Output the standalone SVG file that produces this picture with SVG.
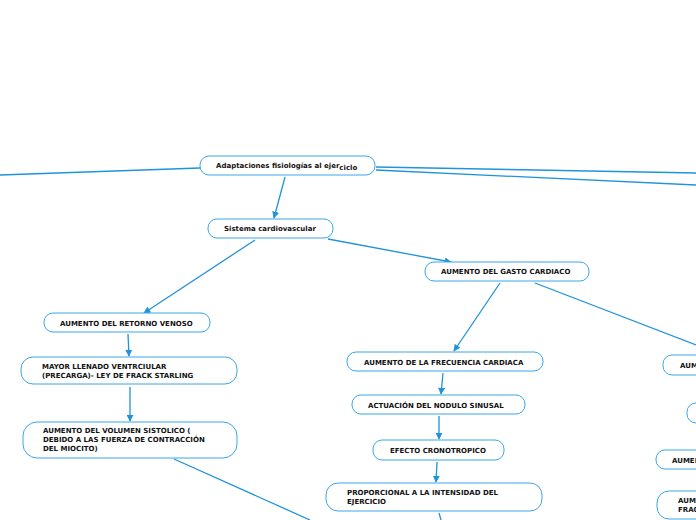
<svg xmlns="http://www.w3.org/2000/svg" width="696" height="520" viewBox="0 0 696 520">
<style>
.n{fill:#fff;stroke:#3aa6e8;stroke-width:1}
.t{font-family:"DejaVu Sans",Verdana,sans-serif;font-weight:bold;font-size:7px;fill:#111}
.c{fill:none;stroke:#1f93dc;stroke-width:1.3}
</style>
<defs>
<marker id="a" viewBox="0 0 10 10" refX="9" refY="5" markerWidth="7" markerHeight="7" orient="auto" markerUnits="userSpaceOnUse">
<path d="M0,0 L10,5 L0,10 z" fill="#1f93dc"/>
</marker>
</defs>
<g id="connectors">
<line class="c" x1="200" y1="168" x2="0" y2="175"/>
<line class="c" x1="376" y1="167" x2="696" y2="173"/>
<line class="c" x1="376" y1="170" x2="696" y2="185"/>
<line class="c" x1="285" y1="177" x2="274" y2="218" marker-end="url(#a)"/>
<line class="c" x1="328" y1="239" x2="451" y2="262" marker-end="url(#a)"/>
<line class="c" x1="255" y1="240" x2="144" y2="313" marker-end="url(#a)"/>
<line class="c" x1="128" y1="334" x2="129" y2="356" marker-end="url(#a)"/>
<line class="c" x1="130" y1="387" x2="130" y2="421" marker-end="url(#a)"/>
<line class="c" x1="174" y1="459" x2="310" y2="520"/>
<line class="c" x1="500" y1="283" x2="454" y2="351" marker-end="url(#a)"/>
<line class="c" x1="535" y1="283" x2="696" y2="345"/>
<line class="c" x1="443" y1="373" x2="441" y2="394" marker-end="url(#a)"/>
<line class="c" x1="439" y1="416" x2="439" y2="439" marker-end="url(#a)"/>
<line class="c" x1="437" y1="462" x2="436" y2="482" marker-end="url(#a)"/>
<line class="c" x1="439" y1="513" x2="441" y2="520"/>
</g>
<g id="root"><rect class="n" x="200" y="156" width="175" height="19" rx="9"/><text class="t" x="216" y="168">Adaptaciones fisiologías al ejer<tspan dy="1.5">ciclo</tspan></text></g>
<g id="sistema"><rect class="n" x="208" y="219" width="125" height="19" rx="9"/><text class="t" x="224" y="231">Sistema cardiovascular</text></g>
<g id="gasto"><rect class="n" x="425" y="262" width="164" height="19" rx="9"/><text class="t" x="441" y="274">AUMENTO DEL GASTO CARDIACO</text></g>
<g id="retorno"><rect class="n" x="44" y="313" width="166" height="19" rx="9"/><text class="t" x="60" y="326">AUMENTO DEL RETORNO VENOSO</text></g>
<g id="llenado"><rect class="n" x="21" y="357" width="216" height="27" rx="12"/><text class="t" x="42" y="369">MAYOR LLENADO VENTRCIULAR</text><text class="t" x="42" y="378">(PRECARGA)- LEY DE FRACK STARLING</text></g>
<g id="volumen"><rect class="n" x="23" y="422" width="214" height="36" rx="14"/><text class="t" x="43" y="433">AUMENTO DEL VOLUMEN SISTOLICO (</text><text class="t" x="43" y="442">DEBIDO A LAS FUERZA DE CONTRACCIÓN</text><text class="t" x="43" y="451">DEL MIOCITO)</text></g>
<g id="frecuencia"><rect class="n" x="347" y="352" width="196" height="19" rx="9"/><text class="t" x="364" y="365">AUMENTO DE LA FRECUENCIA CARDIACA</text></g>
<g id="nodulo"><rect class="n" x="352" y="395" width="173" height="19" rx="9"/><text class="t" x="368" y="408">ACTUACIÓN DEL NODULO SINUSAL</text></g>
<g id="cronotropico"><rect class="n" x="373" y="440" width="131" height="20" rx="9"/><text class="t" x="390" y="453">EFECTO CRONOTROPICO</text></g>
<g id="proporcional"><rect class="n" x="326" y="483" width="216" height="28" rx="12"/><text class="t" x="347" y="495">PROPORCIONAL A LA INTENSIDAD DEL</text><text class="t" x="347" y="504">EJERCICIO</text></g>
<g id="r1"><rect class="n" x="663" y="355" width="60" height="20" rx="9"/><text class="t" x="680" y="368">AUMENTO</text></g>
<g id="r2"><rect class="n" x="687" y="403" width="40" height="20" rx="9"/></g>
<g id="r3"><rect class="n" x="656" y="450" width="60" height="19" rx="9"/><text class="t" x="672" y="463">AUMENTO</text></g>
<g id="r4"><rect class="n" x="657" y="491" width="60" height="28" rx="12"/><text class="t" x="678" y="503">AUMENTO</text><text class="t" x="678" y="512">FRACCIÓN</text></g>
</svg>
